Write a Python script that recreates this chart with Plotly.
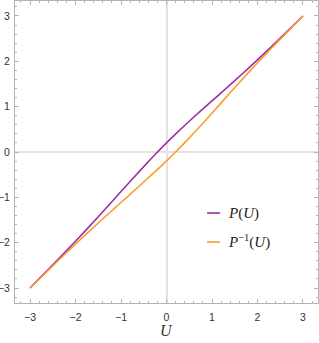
import plotly.graph_objects as go

# Values
u_vals = [-3.0, -2.75, -2.5, -2.25, -2.0, -1.75, -1.5, -1.25, -1.0, -0.75, -0.5, -0.25,
          0.0, 0.25, 0.5, 0.75, 1.0, 1.25, 1.5, 1.75, 2.0, 2.25, 2.5, 2.75, 3.0]
p_vals = [-3.0, -2.744, -2.488, -2.230, -1.968, -1.700, -1.428, -1.152, -0.873, -0.595, -0.322, -0.056,
          0.200, 0.444, 0.678, 0.905, 1.127, 1.348, 1.572, 1.800, 2.032, 2.270, 2.512, 2.756, 3.0]
# Inverse curve: x positions and values
pinv_x = [-3.0, -2.744, -2.488, -2.230, -1.968, -1.700, -1.428, -1.152, -0.873, -0.595, -0.322, -0.056,
          0.200, 0.444, 0.678, 0.905, 1.127, 1.348, 1.572, 1.800, 2.032, 2.270, 2.512, 2.756, 3.0]
pinv_y = [-3.0, -2.75, -2.5, -2.25, -2.0, -1.75, -1.5, -1.25, -1.0, -0.75, -0.5, -0.25,
          0.0, 0.25, 0.5, 0.75, 1.0, 1.25, 1.5, 1.75, 2.0, 2.25, 2.5, 2.75, 3.0]
tick_vals = [-3, -2, -1, 0, 1, 2, 3]

PURPLE = "#9b30a3"
ORANGE = "#ff9b30"
FRAME = "#b4b4b4"

fig = go.Figure()
fig.add_trace(go.Scatter(x=u_vals, y=p_vals, mode="lines", name="P(U)",
                         line=dict(color=PURPLE, width=1.6, shape="spline"), showlegend=False))
fig.add_trace(go.Scatter(x=pinv_x, y=pinv_y, mode="lines", name="P^-1(U)",
                         line=dict(color=ORANGE, width=1.6, shape="spline"), showlegend=False))

axis_common = dict(
    range=[-3.33, 3.33], tickvals=tick_vals, showgrid=False, automargin=False,
    zeroline=True, zerolinecolor="#e2e2e2", zerolinewidth=1.5,
    showline=True, linecolor=FRAME, linewidth=1, mirror="allticks",
    ticks="inside", ticklen=4, tickcolor=FRAME, tickwidth=1,
    minor=dict(ticks="inside", dtick=0.2, ticklen=2, tickcolor=FRAME, showgrid=False),
    tickfont=dict(family="Liberation Sans, Arial, sans-serif", size=10.5, color="#333333"),
)

fig.update_layout(
    width=319, height=343,
    margin=dict(l=15, r=1, t=1, b=40, autoexpand=False),
    paper_bgcolor="white", plot_bgcolor="white",
    xaxis=dict(**axis_common, ticklabelstandoff=4),
    yaxis=dict(**axis_common, ticklabelstandoff=2),
    showlegend=False,
)

# x-axis title
fig.add_annotation(xref="paper", yref="paper", x=(166 - 15) / 303, y=-0.055,
                   text="<i>U</i>", showarrow=False, yanchor="top",
                   font=dict(family="Liberation Serif, serif", size=16, color="#333333"))

# Legend (drawn manually)
legend_items = [("<i>P</i>(<i>U</i>)", PURPLE, 0.298),
                ("<i>P</i><sup>−1</sup>(<i>U</i>)", ORANGE, 0.202)]
for text, col, yy in legend_items:
    fig.add_shape(type="line", xref="paper", yref="paper", x0=0.634, x1=0.677, y0=yy, y1=yy,
                  line=dict(color=col, width=1.6))
    fig.add_annotation(xref="paper", yref="paper", x=0.696, y=yy, text=text, showarrow=False,
                       xanchor="left", yanchor="middle",
                       font=dict(family="Liberation Serif, serif", size=15, color="#222222"))

fig.write_html("out.html", config={"displayModeBar": False},
               post_script="document.body.style.margin='0';document.body.style.overflow='hidden';")
